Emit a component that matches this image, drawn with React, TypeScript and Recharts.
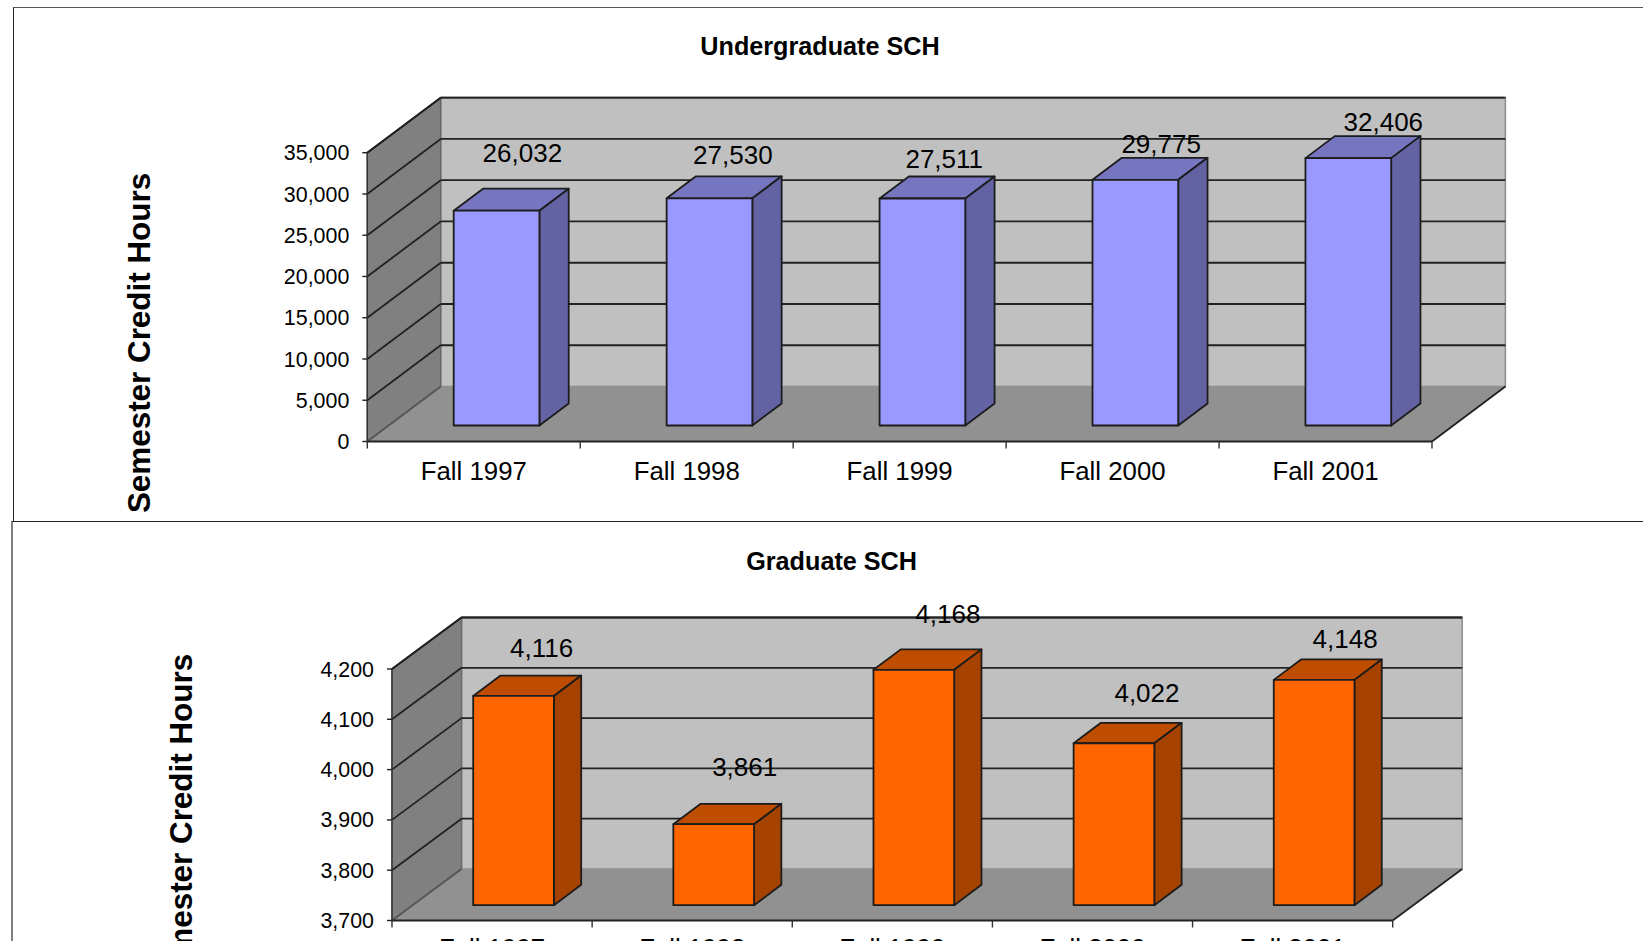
import { BarChart, Bar, XAxis, YAxis, CartesianGrid, LabelList } from 'recharts';

const categories = ['Fall 1997', 'Fall 1998', 'Fall 1999', 'Fall 2000', 'Fall 2001'];
const undergradValues = [26032, 27530, 27511, 29775, 32406];
const gradValues = [4116, 3861, 4168, 4022, 4148];
const undergradTicks = [0, 5000, 10000, 15000, 20000, 25000, 30000, 35000];
const gradTicks = [3700, 3800, 3900, 4000, 4100, 4200];

const FONT = '"Liberation Sans", Arial, sans-serif';
const PAGE_W = 1643;
const PAGE_H = 1000;
const AXIS_W = 120;
const AXIS_H = 50;

const fmt = (v: number) => v.toLocaleString('en-US');

const upperChart = {
  title: 'Undergraduate SCH',
  titleX: 820,
  titleY: 46,
  yTitleX: 139.5,
  yTitleY: 343,
  left: 367.3,
  right: 1432,
  top: 152.7,
  bottom: 441.5,
  depthX: 73.4,
  depthY: 55,
  barW: 85.7,
  barDX: 22.4,
  barDY: 16,
  sideDX: 29.3,
  sideDY: 22,
  tickTextY: 38,
  front: '#9999ff',
  topFace: '#7676c0',
  side: '#6363a4',
  domain: [0, 35000],
  labelDX: [25.8, 23.4, 21.8, 25.8, 35],
  labelDY: [-57.6, -43.2, -39, -36, -36],
};

const lowerChart = {
  title: 'Graduate SCH',
  titleX: 831.6,
  titleY: 560.5,
  yTitleX: 181.5,
  yTitleY: 824,
  left: 392,
  right: 1392.7,
  top: 669,
  bottom: 920.5,
  depthX: 69.5,
  depthY: 51.5,
  barW: 80.7,
  barDX: 21.2,
  barDY: 15.3,
  sideDX: 27.3,
  sideDY: 20.4,
  tickTextY: 36.5,
  front: '#ff6600',
  topFace: '#bf4d00',
  side: '#a64200',
  domain: [3700, 4200],
  labelDX: [28, 31, 34, 33, 31],
  labelDY: [-48, -57, -56, -50, -41],
};

type Cfg = typeof upperChart;

// floor and walls sit under the chart, the grid lines come from the y axis
function Walls({ c }: { c: Cfg }) {
  const bx = c.left + c.depthX;
  const brx = c.right + c.depthX;
  const topBack = c.top - c.depthY;
  const floorBack = c.bottom - c.depthY;
  return (
    <svg width={PAGE_W} height={PAGE_H} style={{ position: 'absolute', left: 0, top: 0 }}>
      <polygon
        points={`${bx},${topBack} ${brx},${topBack} ${brx},${floorBack} ${bx},${floorBack}`}
        fill="#c0c0c0"
        stroke="#8c8c8c"
        strokeWidth={1.5}
      />
      <polygon
        points={`${c.left},${c.top} ${bx},${topBack} ${bx},${floorBack} ${c.left},${c.bottom}`}
        fill="#808080"
        stroke="#6a6a6a"
        strokeWidth={1.5}
      />
      <polygon
        points={`${c.left},${c.bottom} ${bx},${floorBack} ${brx},${floorBack} ${c.right},${c.bottom}`}
        fill="#919191"
      />
      <line x1={c.right} y1={c.bottom} x2={brx} y2={floorBack} stroke="#222" strokeWidth={1.8} />
      <line x1={bx} y1={topBack} x2={brx} y2={topBack} stroke="#555" strokeWidth={1.8} />
      <line x1={c.left} y1={c.top} x2={bx} y2={topBack} stroke="#333" strokeWidth={1.8} />
    </svg>
  );
}

function Chart3D({ c, values, ticks }: { c: Cfg; values: number[]; ticks: number[] }) {
  const data = categories.map((name, i) => ({ name, value: values[i] }));
  const band = (c.right - c.left) / categories.length;

  const Bar3D = (p: any) => {
    const x = p.x + c.barDX;
    const y = p.y - c.barDY;
    const w = p.width;
    const h = p.height;
    const sx = c.sideDX;
    const sy = c.sideDY;
    return (
      <g stroke="#1c1c1c" strokeWidth={1.8} strokeLinejoin="round">
        <polygon points={`${x},${y} ${x + sx},${y - sy} ${x + w + sx},${y - sy} ${x + w},${y}`} fill={c.topFace} />
        <polygon points={`${x + w},${y} ${x + w + sx},${y - sy} ${x + w + sx},${y + h - sy} ${x + w},${y + h}`} fill={c.side} />
        <rect x={x} y={y} width={w} height={h} fill={c.front} />
      </g>
    );
  };

  const GridLine = (p: any) => {
    const onFloor = Math.abs(p.y1 - c.bottom) < 1;
    return (
      <g key={p.key} stroke={onFloor ? '#555' : '#222'} strokeWidth={1.8}>
        <line x1={p.x1} y1={p.y1} x2={p.x1 + c.depthX} y2={p.y1 - c.depthY} />
        {!onFloor && <line x1={p.x1 + c.depthX} y1={p.y1 - c.depthY} x2={p.x2 + c.depthX} y2={p.y1 - c.depthY} />}
      </g>
    );
  };

  const CategoryTick = (p: any) => (
    <g>
      <line x1={p.x - band / 2} y1={c.bottom} x2={p.x - band / 2} y2={c.bottom + 7} stroke="#333" strokeWidth={1.4} />
      {p.index === categories.length - 1 && (
        <line x1={p.x + band / 2} y1={c.bottom} x2={p.x + band / 2} y2={c.bottom + 7} stroke="#333" strokeWidth={1.4} />
      )}
      <text x={p.x} y={c.bottom + c.tickTextY} textAnchor="middle" fontSize={25.8} fontFamily={FONT} fill="#000">
        {p.payload.value}
      </text>
    </g>
  );

  const ValueLabel = (p: any) => (
    <text
      x={p.x + c.barDX + p.width / 2 + c.labelDX[p.index]}
      y={p.y - c.barDY + c.labelDY[p.index]}
      textAnchor="middle"
      dominantBaseline="central"
      fontSize={26}
      fontFamily={FONT}
      fill="#000"
    >
      {fmt(p.value)}
    </text>
  );

  return (
    <>
      <Walls c={c} />
      <div style={{ position: 'absolute', left: 0, top: 0 }}>
        <BarChart
          width={PAGE_W}
          height={PAGE_H}
          data={data}
          barSize={c.barW}
          margin={{
            left: c.left - AXIS_W,
            right: PAGE_W - c.right,
            top: c.top,
            bottom: PAGE_H - c.bottom - AXIS_H,
          }}
        >
          <CartesianGrid vertical={false} horizontal={GridLine} />
          <XAxis
            dataKey="name"
            height={AXIS_H}
            axisLine={{ stroke: '#222', strokeWidth: 1.8 }}
            tickLine={false}
            tick={CategoryTick}
            interval={0}
          />
          <YAxis
            width={AXIS_W}
            domain={c.domain}
            ticks={ticks}
            interval={0}
            tickFormatter={fmt}
            axisLine={{ stroke: '#333', strokeWidth: 1.4 }}
            tickLine={{ stroke: '#222', strokeWidth: 1.4 }}
            tickSize={5}
            tickMargin={13}
            tick={{ fontSize: 21.4, fontFamily: FONT, fill: '#000' }}
          />
          <Bar dataKey="value" shape={Bar3D} isAnimationActive={false}>
            <LabelList dataKey="value" content={ValueLabel} />
          </Bar>
          <text x={c.titleX} y={c.titleY} textAnchor="middle" dominantBaseline="central" fontSize={25.2} fontWeight="bold" fontFamily={FONT} fill="#000">
            {c.title}
          </text>
          <text
            x={c.yTitleX}
            y={c.yTitleY}
            transform={`rotate(-90 ${c.yTitleX} ${c.yTitleY})`}
            textAnchor="middle"
            dominantBaseline="central"
            fontSize={31.4}
            fontWeight="bold"
            fontFamily={FONT}
            fill="#000"
          >
            Semester Credit Hours
          </text>
        </BarChart>
      </div>
    </>
  );
}

export default function App() {
  return (
    <div style={{ position: 'absolute', left: 0, top: 0, width: 1643, height: 941, overflow: 'hidden', background: '#fff' }}>
      <div style={{ position: 'absolute', left: 13, top: 7, width: 1700, height: 600, borderLeft: '1.5px solid #222', borderTop: '1.5px solid #555', boxSizing: 'border-box' }} />
      <Chart3D c={upperChart} values={undergradValues} ticks={undergradTicks} />
      <div style={{ position: 'absolute', left: 10.5, top: 520.5, width: 1700, height: 600, borderLeft: '2px solid #808080', borderTop: '1.5px solid #222', background: '#fff', boxSizing: 'border-box' }} />
      <Chart3D c={lowerChart} values={gradValues} ticks={gradTicks} />
    </div>
  );
}
